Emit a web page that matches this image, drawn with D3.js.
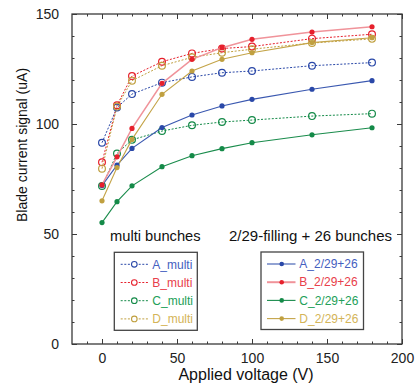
<!DOCTYPE html>
<html><head><meta charset="utf-8">
<script src="https://cdn.jsdelivr.net/npm/d3@7"></script>
<style>
html,body{margin:0;padding:0;background:#fff;}
svg{display:block;font-family:"Liberation Sans",Arial,Helvetica,sans-serif;}
</style></head>
<body><svg id="c" width="415" height="386"></svg>
<script>
const voltages = [0, 10, 20, 40, 60, 80, 100, 140, 180];
const A_multi = [91.5, 107.5, 113.6, 118.8, 121.4, 123.3, 124.1, 126.5, 127.9];
const B_multi = [82.6, 108.5, 121.8, 128.3, 132.1, 134.3, 135.2, 138.8, 140.8];
const C_multi = [71.8, 86.6, 92.8, 96.8, 99.4, 100.9, 101.8, 103.6, 104.7];
const D_multi = [79.7, 107.9, 119.7, 126.5, 130.3, 132.4, 134.0, 136.8, 138.7];
const A_fill = [72.0, 81.3, 88.9, 98.4, 104.1, 108.2, 111.2, 115.8, 119.7];
const B_fill = [72.3, 85.1, 98.0, 118.5, 129.4, 134.7, 138.5, 141.8, 144.2];
const C_fill = [55.2, 64.7, 71.9, 80.6, 85.6, 88.8, 91.5, 95.1, 98.3];
const D_fill = [65.1, 80.2, 93.0, 113.5, 124.1, 129.4, 132.4, 137.0, 139.2];
const multiNames = ["A_multi", "B_multi", "C_multi", "D_multi"];
const fillNames = ["A_2/29+26", "B_2/29+26", "C_2/29+26", "D_2/29+26"];
const xTicks = [0, 50, 100, 150, 200];
const yTicks = [0, 50, 100, 150];
const title1 = "multi bunches";
const title2 = "2/29-filling + 26 bunches";
const xLabel = "Applied voltage (V)";
const yLabel = "Blade current signal (uA)";

const markColor = ["#2a48a8", "#e6202c", "#148a48", "#c0a040"];
const lineSolid = ["#3a58b0", "#f0939a", "#1a8c4c", "#c4a448"];
const textColor = ["#4560c0", "#e8404a", "#22a058", "#d4b458"];

const svg = d3.select("#c");
const L = 72, R = 402, T = 14, B = 344;
const x = d3.scaleLinear().domain([-20, 200]).range([L, R]);
const y = d3.scaleLinear().domain([0, 150]).range([B, T]);

const minorX = d3.range(-10, 200, 10).filter(v => v % 50 !== 0);
const minorY = d3.range(10, 150, 10).filter(v => v % 50 !== 0);
const axC = "#3a3a3a";

function styleAxis(g) {
  g.select(".domain").remove();
  g.selectAll(".tick line").attr("stroke", axC).attr("stroke-width", 1);
  g.selectAll(".tick text").attr("fill", "#222").style("font-size", "14px")
    .style("font-family", '"Liberation Sans",Arial,sans-serif');
}
// bottom
svg.append("g").attr("transform", `translate(0,${B})`)
  .call(d3.axisBottom(x).tickValues(xTicks).tickSizeInner(-5).tickSizeOuter(0).tickPadding(20).tickFormat(d3.format("d")))
  .call(styleAxis).call(g => g.selectAll(".tick text").attr("dy", "-0.05em"));
svg.append("g").attr("transform", `translate(0,${B})`)
  .call(d3.axisBottom(x).tickValues(minorX).tickSizeInner(-2.5).tickSizeOuter(0).tickFormat(""))
  .call(styleAxis);
// top
svg.append("g").attr("transform", `translate(0,${T})`)
  .call(d3.axisTop(x).tickValues(xTicks).tickSizeInner(-5).tickSizeOuter(0).tickFormat(""))
  .call(styleAxis);
svg.append("g").attr("transform", `translate(0,${T})`)
  .call(d3.axisTop(x).tickValues(minorX).tickSizeInner(-2.5).tickSizeOuter(0).tickFormat(""))
  .call(styleAxis);
// left
svg.append("g").attr("transform", `translate(${L},0)`)
  .call(d3.axisLeft(y).tickValues(yTicks).tickSizeInner(-5).tickSizeOuter(0).tickPadding(13).tickFormat(d3.format("d")))
  .call(styleAxis);
svg.append("g").attr("transform", `translate(${L},0)`)
  .call(d3.axisLeft(y).tickValues(minorY).tickSizeInner(-2.5).tickSizeOuter(0).tickFormat(""))
  .call(styleAxis);
// right
svg.append("g").attr("transform", `translate(${R},0)`)
  .call(d3.axisRight(y).tickValues(yTicks).tickSizeInner(-5).tickSizeOuter(0).tickFormat(""))
  .call(styleAxis);
svg.append("g").attr("transform", `translate(${R},0)`)
  .call(d3.axisRight(y).tickValues(minorY).tickSizeInner(-2.5).tickSizeOuter(0).tickFormat(""))
  .call(styleAxis);

svg.append("rect").attr("x", L).attr("y", T).attr("width", R - L).attr("height", B - T)
  .attr("fill", "none").attr("stroke", axC).attr("stroke-width", 1.3);

const line = d3.line().x((d, i) => x(voltages[i])).y(d => y(d));
const multi = [A_multi, B_multi, C_multi, D_multi];
const fill = [A_fill, B_fill, C_fill, D_fill];

multi.forEach((s, k) => {
  svg.append("path").datum(s).attr("d", line).attr("fill", "none")
    .attr("stroke", markColor[k]).attr("stroke-width", 1).attr("stroke-dasharray", "2,1.6");
});
multi.forEach((s, k) => {
  svg.append("g").selectAll("circle").data(s).join("circle")
    .attr("cx", (d, i) => x(voltages[i])).attr("cy", d => y(d)).attr("r", 3.4)
    .attr("fill", "none").attr("stroke", markColor[k]).attr("stroke-width", 1.2);
});
fill.forEach((s, k) => {
  svg.append("path").datum(s).attr("d", line).attr("fill", "none")
    .attr("stroke", lineSolid[k]).attr("stroke-width", k === 1 ? 1.5 : 1.1);
});
fill.forEach((s, k) => {
  svg.append("g").selectAll("circle").data(s).join("circle")
    .attr("cx", (d, i) => x(voltages[i])).attr("cy", d => y(d)).attr("r", 2.6)
    .attr("fill", markColor[k]);
});

// titles
svg.append("text").attr("x", 110).attr("y", 240.5).text(title1)
  .attr("fill", "#111").style("font-size", "14.7px");
svg.append("text").attr("x", 229).attr("y", 240.5).text(title2)
  .attr("fill", "#111").style("font-size", "15px");

// legends
function legend(bx, by, bw, bh, lx0, lx1, mx, tx, names, dashed) {
  svg.append("rect").attr("x", bx).attr("y", by).attr("width", bw).attr("height", bh)
    .attr("fill", "#fff").attr("stroke", "#444").attr("stroke-width", 1.3);
  names.forEach((n, k) => {
    const cy = by + 12 + k * 18.2;
    svg.append("line").attr("x1", lx0).attr("x2", lx1).attr("y1", cy).attr("y2", cy)
      .attr("stroke", dashed ? markColor[k] : lineSolid[k])
      .attr("stroke-width", dashed ? 1 : (k === 1 ? 2 : 1.1))
      .attr("stroke-dasharray", dashed ? "2,1.6" : null);
    if (dashed) {
      svg.append("circle").attr("cx", mx).attr("cy", cy).attr("r", 2.8)
        .attr("fill", "#fff").attr("stroke", markColor[k]).attr("stroke-width", 1.1);
    } else {
      svg.append("circle").attr("cx", mx).attr("cy", cy).attr("r", 2.3).attr("fill", markColor[k]);
    }
    svg.append("text").attr("x", tx).attr("y", cy + 4.2).text(n)
      .attr("fill", textColor[k]).style("font-size", "12px");
  });
}
legend(114.3, 252.3, 83, 78, 120.7, 148, 134.3, 152.3, multiNames, true);
legend(261, 252, 102.5, 77.5, 267, 295.5, 281.7, 299.3, fillNames, false);

// axis labels
svg.append("text").attr("x", 246).attr("y", 380).attr("text-anchor", "middle")
  .text(xLabel).attr("fill", "#111").style("font-size", "16px");
svg.append("text").attr("transform", "translate(27,145) rotate(-90)").attr("text-anchor", "middle")
  .text(yLabel).attr("fill", "#111").style("font-size", "14px");
</script></body></html>
